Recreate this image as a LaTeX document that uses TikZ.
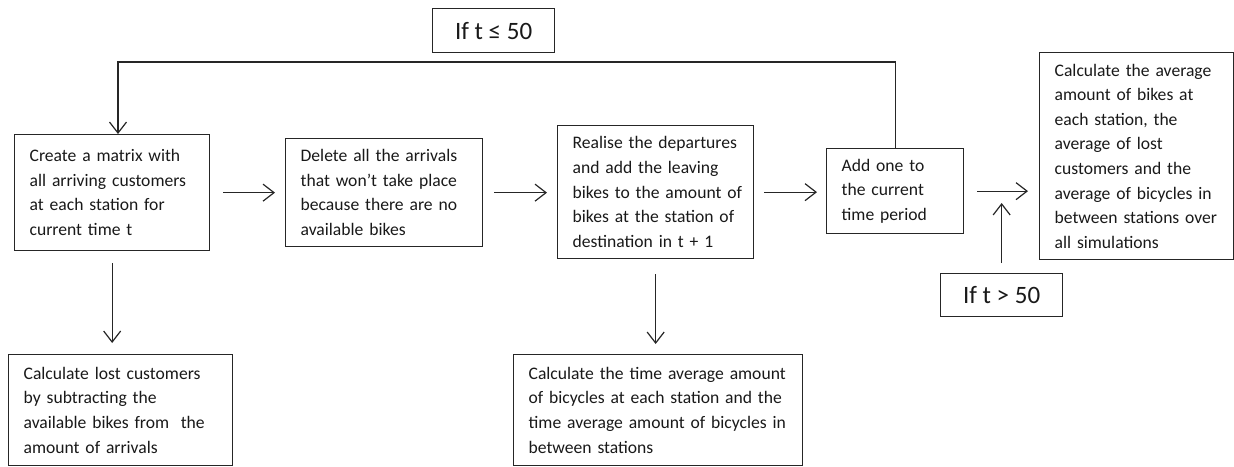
\documentclass[tikz,border=0pt]{standalone}
\usepackage{fontspec}
\setmainfont{Carlito}
\usetikzlibrary{arrows.meta}
\newcommand\myboxfont{\fontsize{17.6}{24.6}\selectfont\hyphenpenalty 10000\relax}
\newcommand\mycondfont{\fontsize{25}{28}\selectfont}
\begin{document}
\begin{tikzpicture}[x=1pt,y=-1pt,
  box/.style={draw=black!85, line width=1.3pt, anchor=north west, inner xsep=15pt, inner ysep=0pt,
    align=left, font=\myboxfont, text=black!90},
  cond/.style={draw=black!85, line width=1.3pt, anchor=north west, inner sep=0pt,
    font=\mycondfont, text=black!90},
  arr/.style={draw=black!85, line width=1.2pt, -{Straight Barb[length=11pt,width=17pt]}},
]
\useasboundingbox (0,0) rectangle (1234,466);

\node[cond, minimum width=122pt, minimum height=44pt] (L1) at (432,8) {If t ≤ 50};
\node[cond, minimum width=122pt, minimum height=43pt] (L2) at (940,273) {If t > 50};

\node[box, text width=165pt, minimum height=116pt] (A) at (14,134)
  {Create a matrix with\\all arriving customers\\at each station for\\current time t};
\node[box, text width=167pt, minimum height=108pt] (B) at (285,138)
  {Delete all the arrivals\\that won’t take place\\because there are no\\available bikes};
\node[box, text width=166pt, minimum height=133pt] (C) at (557,125)
  {\mbox{Realise the departures}\\\mbox{and add the leaving}\\\mbox{bikes to the amount of}\\\mbox{bikes at the station of}\\\mbox{destination in t + 1}};
\node[box, text width=107pt, minimum height=85pt] (D) at (826,148)
  {Add one to\\the current\\time period};
\node[box, text width=164pt, minimum height=207pt] (E) at (1039,52)
  {\mbox{Calculate the average}\\\mbox{amount of bikes at}\\\mbox{each station, the}\\\mbox{average of lost}\\\mbox{customers and the}\\\mbox{average of bicycles in}\\\mbox{between stations over}\\\mbox{all simulations}};
\node[box, text width=194pt, minimum height=111pt] (F) at (8,354)
  {Calculate lost customers\\by subtracting the\\available bikes from\ \ the\\amount of arrivals};
\node[box, text width=259pt, minimum height=111pt] (G) at (513,354)
  {\mbox{Calculate the time average amount}\\\mbox{of bicycles at each station and the}\\\mbox{time average amount of bicycles in}\\\mbox{between stations}};

\coordinate (loopL) at (118,62);
\coordinate (merge) at (1002,203);

\draw[arr] (D.north) |- (loopL) -- (loopL |- A.north);
\draw[arr, shorten <=13pt, shorten >=10pt] (A.east) -- (A.east -| B.west);
\draw[arr, shorten <=11pt, shorten >=10pt] (B.east) -- (B.east -| C.west);
\draw[arr, shorten <=10pt, shorten >=9pt] (C.east) -- (C.east -| D.west);
\draw[arr, shorten <=13pt, shorten >=11pt] (D.east) -- (D.east -| E.west);
\draw[arr, shorten <=12pt, shorten >=11pt] (A.south) -- (A.south |- F.north);
\draw[arr, shorten <=15pt, shorten >=10pt] (C.south) -- (C.south |- G.north);
\draw[arr, shorten <=10pt] (L2.north) -- (L2.north |- merge);
\end{tikzpicture}
\end{document}
